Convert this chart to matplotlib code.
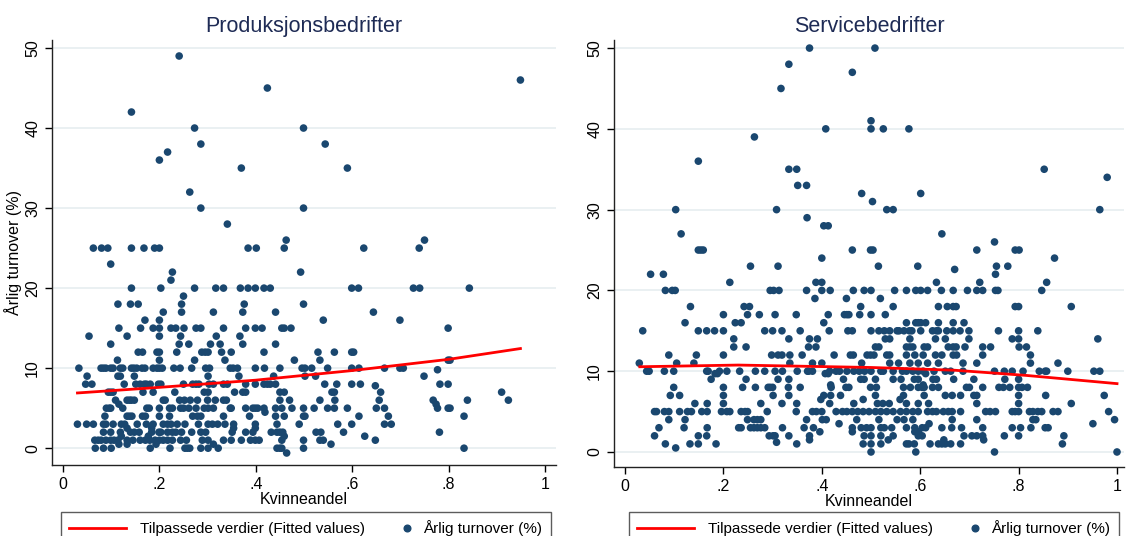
"""
Kvinneandel vs. årlig turnover, produksjons- og servicebedrifter (Stata-lignende stil).
Lagrer out.png.
"""
import matplotlib.pyplot as plt
from matplotlib.legend_handler import HandlerLine2D
from matplotlib.lines import Line2D

plt.rcParams["font.family"] = ["Liberation Sans", "DejaVu Sans"]

titles = ["Produksjonsbedrifter", "Servicebedrifter"]
legend_labels = ["Tilpassede verdier (Fitted values)", "Årlig turnover (%)"]
x_ticks = [0, 0.2, 0.4, 0.6, 0.8, 1]
x_ticklabels = ["0", ".2", ".4", ".6", ".8", "1"]
y_ticks = [0, 10, 20, 30, 40, 50]

# (turnover, [kvinneandel, ...])
prod_rows = [
    (49, [0.241]),
    (46, [0.949]),
    (45, [0.424]),
    (42, [0.142]),
    (40, [0.273, 0.499]),
    (38, [0.286, 0.544]),
    (37, [0.217]),
    (36, [0.200]),
    (35, [0.370, 0.590]),
    (32, [0.263]),
    (30, [0.286, 0.499]),
    (28, [0.341]),
    (26, [0.463, 0.750]),
    (25, [0.063, 0.080, 0.093, 0.142, 0.168, 0.190, 0.200, 0.384, 0.401, 0.459, 0.624, 0.739]),
    (23, [0.099]),
    (22, [0.227, 0.493]),
    (21, [0.224]),
    (20, [0.142, 0.203, 0.273, 0.317, 0.333, 0.368, 0.384, 0.399, 0.417, 0.430, 0.599, 0.613,
          0.727, 0.740, 0.843]),
    (19, [0.250]),
    (18, [0.114, 0.140, 0.156, 0.246, 0.376, 0.499]),
    (17, [0.208, 0.246, 0.312, 0.373, 0.441, 0.644]),
    (16, [0.170, 0.200, 0.540, 0.699]),
    (15, [0.116, 0.161, 0.187, 0.200, 0.224, 0.234, 0.251, 0.276, 0.286, 0.333, 0.379, 0.399,
          0.413, 0.454, 0.459, 0.473, 0.799]),
    (14, [0.054, 0.133, 0.200, 0.244, 0.318, 0.367]),
    (13, [0.099, 0.241, 0.261, 0.306, 0.326, 0.373, 0.441]),
    (12, [0.156, 0.165, 0.195, 0.200, 0.236, 0.288, 0.295, 0.301, 0.329, 0.349, 0.417, 0.529,
          0.563, 0.599, 0.603]),
    (11, [0.113, 0.200, 0.273, 0.336, 0.480, 0.533, 0.799, 0.803]),
    (10, [0.033, 0.079, 0.084, 0.089, 0.099, 0.104, 0.119, 0.124, 0.142, 0.147, 0.153, 0.164,
          0.170, 0.187, 0.195, 0.200, 0.206, 0.230, 0.243, 0.267, 0.296, 0.304, 0.347, 0.353,
          0.362, 0.399, 0.418, 0.450, 0.496, 0.502, 0.516, 0.549, 0.599, 0.614, 0.667, 0.699,
          0.706]),
    (9.8, [0.777]),
    (9, [0.050, 0.114, 0.119, 0.148, 0.301, 0.365, 0.437, 0.502, 0.524, 0.749]),
    (8, [0.047, 0.060, 0.127, 0.151, 0.160, 0.169, 0.173, 0.181, 0.198, 0.203, 0.250, 0.269,
         0.276, 0.282, 0.303, 0.312, 0.333, 0.341, 0.379, 0.399, 0.417, 0.424, 0.430, 0.441,
         0.543, 0.568, 0.599, 0.617, 0.782, 0.799]),
    (7.8, [0.648]),
    (7, [0.094, 0.099, 0.104, 0.166, 0.187, 0.232, 0.293, 0.301, 0.356, 0.373, 0.379, 0.450,
         0.459, 0.558, 0.563, 0.659, 0.910]),
    (6, [0.109, 0.133, 0.138, 0.142, 0.148, 0.208, 0.212, 0.242, 0.252, 0.264, 0.279, 0.300,
         0.316, 0.333, 0.339, 0.450, 0.470, 0.533, 0.564, 0.656, 0.768, 0.839, 0.924]),
    (5.5, [0.116, 0.774]),
    (5, [0.090, 0.096, 0.099, 0.124, 0.174, 0.179, 0.200, 0.221, 0.227, 0.244, 0.250, 0.261,
         0.276, 0.293, 0.301, 0.312, 0.347, 0.349, 0.379, 0.394, 0.399, 0.404, 0.417, 0.441,
         0.454, 0.475, 0.499, 0.521, 0.549, 0.563, 0.590, 0.650, 0.667, 0.777, 0.799, 0.803]),
    (4.5, [0.419]),
    (4, [0.087, 0.133, 0.138, 0.143, 0.165, 0.171, 0.200, 0.221, 0.269, 0.279, 0.286, 0.333,
         0.387, 0.441, 0.459, 0.499, 0.502, 0.614, 0.675, 0.832]),
    (3, [0.030, 0.049, 0.063, 0.084, 0.089, 0.104, 0.121, 0.128, 0.154, 0.173, 0.187, 0.208,
         0.217, 0.224, 0.237, 0.253, 0.281, 0.301, 0.310, 0.321, 0.336, 0.354, 0.399, 0.444,
         0.490, 0.570, 0.599, 0.667, 0.681]),
    (2.5, [0.133, 0.184, 0.354, 0.399]),
    (2, [0.084, 0.099, 0.119, 0.140, 0.148, 0.158, 0.184, 0.199, 0.203, 0.217, 0.227, 0.234,
         0.246, 0.267, 0.286, 0.296, 0.351, 0.379, 0.394, 0.432, 0.444, 0.450, 0.456, 0.525,
         0.535, 0.582, 0.781]),
    (1.5, [0.121, 0.177, 0.459, 0.626]),
    (1, [0.066, 0.073, 0.079, 0.089, 0.099, 0.106, 0.114, 0.133, 0.145, 0.160, 0.171, 0.180,
         0.191, 0.200, 0.208, 0.217, 0.227, 0.244, 0.256, 0.289, 0.301, 0.333, 0.349, 0.370,
         0.389, 0.399, 0.407, 0.454, 0.499, 0.533, 0.540, 0.648]),
    (0.5, [0.116, 0.133, 0.193, 0.312, 0.556]),
    (0, [0.067, 0.084, 0.100, 0.181, 0.222, 0.253, 0.258, 0.263, 0.286, 0.301, 0.322, 0.444,
         0.450, 0.454, 0.499, 0.832]),
    (-0.6, [0.464]),
]

serv_rows = [
    (50, [0.375, 0.508]),
    (48, [0.333]),
    (47, [0.462]),
    (45, [0.317]),
    (41, [0.500]),
    (40, [0.408, 0.500, 0.525, 0.577]),
    (39, [0.263]),
    (36, [0.149]),
    (35, [0.333, 0.349, 0.852]),
    (34, [0.980]),
    (33, [0.351, 0.369]),
    (32, [0.481, 0.601]),
    (31, [0.503]),
    (30, [0.103, 0.308, 0.532, 0.545, 0.965]),
    (29, [0.370]),
    (28, [0.404, 0.413]),
    (27, [0.114, 0.644]),
    (26, [0.751]),
    (25, [0.149, 0.154, 0.159, 0.462, 0.499, 0.504, 0.715, 0.793, 0.801]),
    (24, [0.400, 0.873]),
    (23, [0.255, 0.311, 0.515, 0.595, 0.755, 0.778]),
    (22.6, [0.670]),
    (22, [0.052, 0.078, 0.753]),
    (21, [0.213, 0.388, 0.400, 0.633, 0.721, 0.857]),
    (20, [0.082, 0.096, 0.102, 0.295, 0.302, 0.313, 0.369, 0.400, 0.417, 0.464, 0.486, 0.500,
          0.548, 0.572, 0.591, 0.601, 0.615, 0.643, 0.667, 0.696, 0.715, 0.727, 0.753, 0.758,
          0.847]),
    (19, [0.386, 0.450, 0.519]),
    (18, [0.133, 0.242, 0.253, 0.479, 0.545, 0.637, 0.655, 0.667, 0.673, 0.793, 0.800, 0.907]),
    (17, [0.200, 0.249, 0.273, 0.305, 0.348, 0.413, 0.446, 0.451, 0.455, 0.477, 0.500, 0.529]),
    (16, [0.122, 0.224, 0.236, 0.404, 0.572, 0.591, 0.596, 0.601, 0.611, 0.637, 0.667, 0.689]),
    (15, [0.036, 0.149, 0.166, 0.182, 0.200, 0.284, 0.300, 0.319, 0.356, 0.415, 0.453, 0.462,
          0.500, 0.516, 0.527, 0.538, 0.553, 0.557, 0.567, 0.578, 0.583, 0.601, 0.625, 0.633,
          0.637, 0.654, 0.667, 0.681, 0.699, 0.759, 0.800, 0.839]),
    (14, [0.221, 0.333, 0.375, 0.391, 0.529, 0.538, 0.579, 0.631, 0.651, 0.699, 0.787, 0.800,
          0.961]),
    (13, [0.221, 0.246, 0.373, 0.388, 0.509, 0.516, 0.572, 0.579, 0.585, 0.608, 0.615, 0.657,
          0.667, 0.673, 0.691, 0.727, 0.743, 0.801, 0.816]),
    (12, [0.089, 0.145, 0.200, 0.298, 0.311, 0.319, 0.335, 0.360, 0.425, 0.458, 0.464, 0.492,
          0.499, 0.506, 0.532, 0.538, 0.572, 0.589, 0.606, 0.631, 0.644, 0.667, 0.674, 0.727,
          0.824]),
    (11, [0.029, 0.105, 0.140, 0.335, 0.381, 0.400, 0.481, 0.538, 0.556, 0.579, 0.596, 0.615,
          0.637, 0.687, 0.715, 0.824, 0.880]),
    (10, [0.044, 0.049, 0.080, 0.099, 0.166, 0.169, 0.192, 0.207, 0.233, 0.265, 0.284, 0.305,
          0.320, 0.350, 0.371, 0.373, 0.381, 0.416, 0.429, 0.436, 0.451, 0.465, 0.476, 0.487,
          0.500, 0.520, 0.525, 0.545, 0.564, 0.572, 0.585, 0.596, 0.606, 0.628, 0.651, 0.662,
          0.687, 0.751, 0.771, 0.787, 0.809, 0.842, 0.854, 0.857, 0.900, 0.953, 0.965]),
    (9.7, [0.183, 0.188, 0.407, 0.413, 0.611]),
    (9, [0.175, 0.246, 0.311, 0.333, 0.444, 0.479, 0.486, 0.509, 0.545, 0.561, 0.588, 0.596,
         0.626, 0.633, 0.668, 0.709, 0.772, 0.800]),
    (8.3, [0.418, 0.606]),
    (8, [0.099, 0.200, 0.239, 0.265, 0.291, 0.295, 0.300, 0.332, 0.356, 0.419, 0.449, 0.455,
         0.499, 0.511, 0.566, 0.580, 0.596, 0.604, 0.608, 0.625, 0.637, 0.694, 0.700, 0.727,
         0.760, 0.769, 0.782, 0.800, 0.807, 0.818]),
    (7, [0.092, 0.111, 0.200, 0.301, 0.333, 0.404, 0.418, 0.438, 0.509, 0.566, 0.608, 0.651,
         0.665, 0.682, 0.709, 0.715, 0.800, 0.855, 0.974]),
    (6.5, [0.398, 0.484, 0.559]),
    (6, [0.142, 0.167, 0.200, 0.276, 0.319, 0.349, 0.416, 0.465, 0.513, 0.524, 0.537, 0.572,
         0.596, 0.617, 0.715, 0.800, 0.907]),
    (5, [0.060, 0.064, 0.080, 0.089, 0.111, 0.127, 0.135, 0.156, 0.167, 0.196, 0.207, 0.213,
         0.236, 0.244, 0.249, 0.289, 0.348, 0.381, 0.389, 0.400, 0.429, 0.442, 0.451, 0.462,
         0.473, 0.484, 0.496, 0.509, 0.520, 0.532, 0.545, 0.560, 0.572, 0.585, 0.596, 0.615,
         0.625, 0.633, 0.647, 0.657, 0.665, 0.682, 0.733, 0.742, 0.753, 0.787, 0.793, 0.800,
         0.822, 0.829, 0.839, 0.847, 0.870, 0.880, 0.983]),
    (4, [0.089, 0.122, 0.249, 0.262, 0.269, 0.276, 0.369, 0.401, 0.409, 0.471, 0.516, 0.553,
         0.567, 0.585, 0.665, 0.715, 0.829, 0.835, 0.995]),
    (3.5, [0.435, 0.618, 0.951]),
    (3, [0.069, 0.120, 0.167, 0.231, 0.236, 0.255, 0.262, 0.269, 0.276, 0.284, 0.320, 0.364,
         0.383, 0.462, 0.480, 0.491, 0.500, 0.520, 0.527, 0.542, 0.572, 0.589, 0.604, 0.611,
         0.644, 0.664, 0.684, 0.727, 0.787, 0.804, 0.825, 0.854, 0.860]),
    (2.5, [0.396, 0.462, 0.589, 0.596]),
    (2, [0.060, 0.149, 0.166, 0.293, 0.301, 0.305, 0.333, 0.375, 0.486, 0.500, 0.520, 0.545,
         0.596, 0.604, 0.689, 0.705, 0.715, 0.727, 0.771, 0.800, 0.892]),
    (1.5, [0.375, 0.535, 0.648, 0.729]),
    (1.2, [0.308]),
    (1, [0.082, 0.132, 0.149, 0.185, 0.349, 0.484, 0.500, 0.520, 0.572, 0.577, 0.588, 0.620,
         0.637, 0.644, 0.651, 0.662, 0.682, 0.889]),
    (0.5, [0.103]),
    (0, [0.500, 0.591, 0.751, 1.000]),
]

# fitted values (red curve)
prod_fit_x = [0.03, 0.2, 0.4, 0.6, 0.8, 0.949]
prod_fit_y = [6.9, 7.6, 8.5, 9.7, 11.1, 12.45]
serv_fit_x = [0.03, 0.23, 0.5, 0.67, 0.815, 1.0]
serv_fit_y = [10.55, 10.76, 10.46, 10.12, 9.48, 8.46]

MARKER = "#1a476f"
GRID = "#e6eef0"
TITLE = "#1e2b55"


class HandlerDotRight(HandlerLine2D):
    """Single marker pushed to the right end of the handle box (Stata look)."""

    def get_xdata(self, legend, xdescent, ydescent, width, height, fontsize):
        x = width - xdescent - 0.15 * fontsize
        return [x], [x]


def flatten(rows):
    xs, ys = [], []
    for y, row in rows:
        xs.extend(row)
        ys.extend([y] * len(row))
    return xs, ys


def main():
    W, H = 1126, 536
    fig = plt.figure(figsize=(W / 100, H / 100), dpi=100)

    # axes boxes in pixels: left, right, top, bottom
    boxes = [(52, 556, 40, 465), (614, 1124, 40, 467)]
    legend_left = [61, 629]
    xlims = [(-0.0228, 1.0228), (-0.0224, 1.0142)]
    ylims = [(-2.1, 51.0), (-1.86, 51.0)]
    rows_all = [prod_rows, serv_rows]
    fits = [(prod_fit_x, prod_fit_y), (serv_fit_x, serv_fit_y)]

    for i in range(2):
        l, r, t, b = boxes[i]
        ax = fig.add_axes([l / W, (H - b) / H, (r - l) / W, (b - t) / H])
        xs, ys = flatten(rows_all[i])
        ax.scatter(xs, ys, s=30, color=MARKER, edgecolors="none", zorder=3)
        ax.plot(*fits[i], color="red", lw=2, zorder=4)

        ax.set_xlim(*xlims[i])
        ax.set_ylim(*ylims[i])
        ax.set_xticks(x_ticks)
        ax.set_xticklabels(x_ticklabels)
        ax.set_yticks(y_ticks)
        for lab in ax.get_yticklabels():
            lab.set_rotation(90)
            lab.set_va("center")
        ax.tick_params(direction="out", length=5, width=1, labelsize=11.5, colors="black")
        ax.yaxis.grid(True, color=GRID, lw=1.2)
        ax.set_axisbelow(True)
        for side in ("top", "right"):
            ax.spines[side].set_visible(False)
        for side in ("left", "bottom"):
            ax.spines[side].set_linewidth(1)
            ax.spines[side].set_color("#222222")

        ax.set_title(titles[i], fontsize=15.5, color=TITLE, pad=6)
        ax.set_xlabel("Kvinneandel", fontsize=11.5, labelpad=0)
        if i == 0:
            ax.set_ylabel("Årlig turnover (%)", fontsize=11.5, labelpad=2)

        line_h = Line2D([], [], color="red", lw=2)
        dot_h = Line2D([], [], color=MARKER, marker="o", ls="none", markersize=4.8)
        leg = ax.legend(
            [line_h, dot_h], legend_labels, ncol=2, loc="upper left",
            bbox_to_anchor=(legend_left[i] / W, (H - 512) / H),
            bbox_transform=fig.transFigure,
            handler_map={dot_h: HandlerDotRight()},
            fontsize=11, frameon=True, fancybox=False,
            handlelength=3.73, handletextpad=0.92, columnspacing=-0.85,
            borderpad=0.55, borderaxespad=0,
        )
        leg.get_frame().set_edgecolor("#333333")
        leg.get_frame().set_linewidth(1)

    fig.savefig("out.png", dpi=100)
    plt.close(fig)


if __name__ == "__main__":
    main()
